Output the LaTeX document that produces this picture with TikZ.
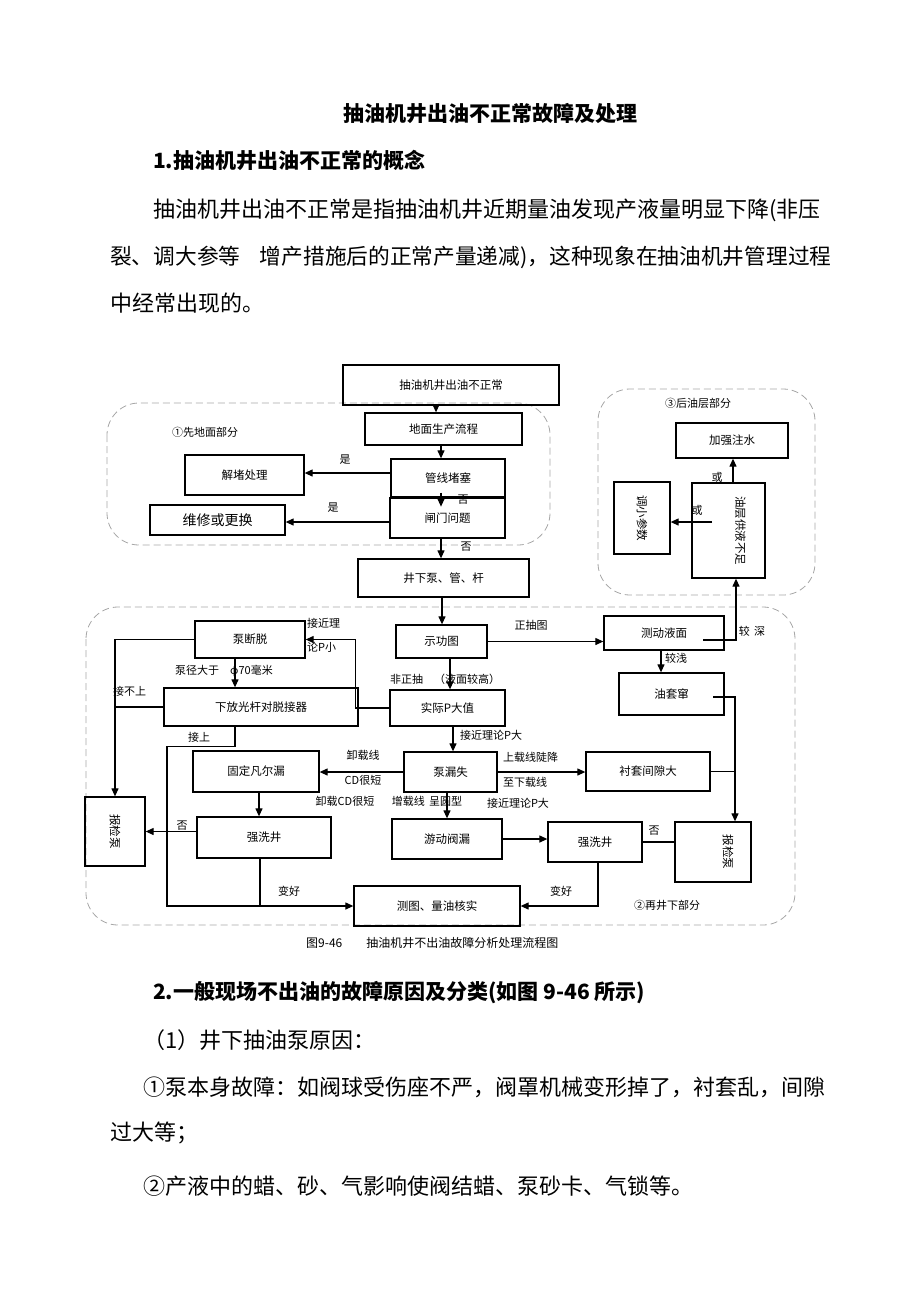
\documentclass[tikz,border=0pt]{standalone}
\usepackage{fontspec}
\setmainfont{Noto Sans CJK SC}
\usetikzlibrary{arrows.meta}

\begin{document}
\begin{tikzpicture}[x=1pt,y=-1pt]
                        \tikzstyle{every node}=[inner sep=0,font=\fontsize{11.5}{13}\selectfont]
                        \tikzstyle{box}=[draw=black,line width=1.3pt,rectangle]
                        \tikzstyle{note}=[draw=none,font=\fontsize{11}{13}\selectfont]
                        \tikzstyle{body}=[note,anchor=west,font=\fontsize{22}{26}\selectfont]
                        \tikzstyle{head}=[body,font=\fontsize{21}{26}\selectfont\bfseries]
                        \tikzstyle{region}=[draw=gray!70,line width=0.8pt,dash pattern=on 7pt off 4pt,rounded corners=32pt]
                        \tikzstyle{line}=[line width=1.2pt]
                        \tikzstyle{arr}=[line,-{Triangle[length=8pt,width=7pt]}]
                        \useasboundingbox (0,0) rectangle (920,1302);
                        {
                            % text above the chart
                            \node[head] (title) at (343,113) {抽油机井出油不正常故障及处理};
                            \node[head] (h1) at (153,160) {1.抽油机井出油不正常的概念};
                            \node[body] (p1) at (153,210) {抽油机井出油不正常是指抽油机井近期量油发现产液量明显下降(非压};
                            \node[body,font=\fontsize{21.7}{26}\selectfont] (p2) at (110,257) {裂、调大参等\hspace{0.9em}增产措施后的正常产量递减)，这种现象在抽油机井管理过程};
                            \node[body] (p3) at (110,303) {中经常出现的。};

                            \draw[region] (107,403) rectangle (550,545);
                            \draw[region] (598,389) rectangle (815,595);
                            \draw[region] (86,607) rectangle (795,925);
                            \node[note] (r1) at (205,432) {①先地面部分};
                            \node[note] (r3) at (698,403) {③后油层部分};
                            \node[note] (r2) at (667,905) {②再井下部分};

                            % ground part
                            \node[box,minimum width=216pt,minimum height=40pt] (top) at (451,385) {抽油机井出油不正常};
                            \node[box,minimum width=157pt,minimum height=32pt] (dimian) at (443.5,429) {地面生产流程};
                            \node[box,minimum width=114pt,minimum height=38pt] (guanxian) at (448,478) {管线堵塞};
                            \node[box,minimum width=115pt,minimum height=40pt] (zhamen) at (447.5,518) {闸门问题};
                            \node[box,minimum width=119pt,minimum height=40pt] (jiedu) at (244.5,475) {解堵处理};
                            \node[box,minimum width=135pt,minimum height=30pt,font=\fontsize{14}{16}\selectfont] (weixiu) at (217.5,520) {维修或更换};
                            \node[box,minimum width=171pt,minimum height=38pt] (jingxia) at (443.5,578) {井下泵、管、杆};

                            \draw[arr] (top.south -| 436,0) -- (dimian.north -| 436,0);
                            \draw[arr] (dimian.south -| 441,0) -- (guanxian.north -| 441,0);
                            \draw[arr] (guanxian.south -| 441,0) ++(0,-5) -- ++(0,14);
                            \draw[arr] (zhamen.south -| 441,0) -- (jingxia.north -| 441,0);
                            \draw[arr] ([yshift=5pt]guanxian.west) -- ([yshift=5pt]guanxian.west -| jiedu.east);
                            \draw[arr] ([yshift=-4pt]zhamen.west) -- ([yshift=-4pt]zhamen.west -| weixiu.east);
                            \node[note] at (345,460) {是};
                            \node[note] at (333,508) {是};
                            \node[note] at (463,500) {否};
                            \node[note] at (466,547) {否};

                            % oil layer part
                            \node[box,minimum width=112pt,minimum height=35pt] (zhushui) at (732,440.5) {加强注水};
                            \node[box,minimum width=56pt,minimum height=72pt] (canshu) at (642,518) {\rotatebox{-90}{调小参数}};
                            \node[box,minimum width=73pt,minimum height=95pt] (gongye) at (728.5,530.5) {\hspace*{24pt}\rotatebox{-90}{油层供液不足}};
                            \coordinate (huo) at (712,522);
                            \draw[arr] (gongye.north -| 733,0) -- (zhushui.south -| 733,0);
                            \draw[arr] (huo) -- (canshu.east |- huo);
                            \node[note] at (717,477) {或};
                            \node[note] at (697,510) {或};

                            % well part
                            \node[box,minimum width=110pt,minimum height=37pt] (duandu) at (250,639.5) {泵断脱};
                            \node[box,minimum width=91pt,minimum height=33pt] (shigong) at (441.5,641.5) {示功图};
                            \node[box,minimum width=120pt,minimum height=34pt] (yemian) at (664,633) {测动液面};
                            \node[box,minimum width=105pt,minimum height=42pt] (youtao) at (671.5,694) {油套窜};
                            \node[box,minimum width=194pt,minimum height=38pt] (tuojie) at (261,707) {下放光杆对脱接器};
                            \node[box,minimum width=115pt,minimum height=36pt] (pmax) at (447.5,708) {实际P大值};
                            \node[box,minimum width=93pt,minimum height=40pt] (loushi) at (450.5,772) {泵漏失};
                            \node[box,minimum width=126pt,minimum height=41pt] (guding) at (256,771.5) {固定凡尔漏};
                            \node[box,minimum width=124pt,minimum height=39pt] (chentao) at (648,771.5) {衬套间隙大};
                            \node[box,minimum width=60pt,minimum height=69pt] (jianL) at (115,831.5) {\rotatebox{-90}{报检泵}};
                            \node[box,minimum width=134pt,minimum height=41pt] (qxL) at (264,837.5) {强洗井};
                            \node[box,minimum width=110pt,minimum height=40pt] (youdong) at (447,839) {游动阀漏};
                            \node[box,minimum width=94pt,minimum height=40pt] (qxR) at (595,842) {强洗井};
                            \node[box,minimum width=76pt,minimum height=60pt] (jianR) at (713,852) {\hspace*{30pt}\raisebox{7pt}{\rotatebox{-90}{报检泵}}};
                            \node[box,minimum width=166pt,minimum height=40pt] (hedui) at (437,906) {测图、量油核实};
                            \coordinate (shen) at (703,640);
                            \coordinate (chuan) at (713,697);

                            \draw[arr] (jingxia.south -| 442,0) -- (shigong.north -| 442,0);
                            \draw[arr] (shigong.east) -- (shigong.east -| yemian.west);
                            \draw[arr] (yemian.south -| 661,0) -- (youtao.north -| 661,0);
                            \draw[arr] (shen) -| (gongye.south -| 736,0);
                            \draw[arr] (chuan) -| (jianR.north -| 735,0);
                            \draw[line] (chentao.east) -- (chentao.east -| 735,0);
                            \draw[arr] (shigong.south -| 450,0) -- (pmax.north -| 450,0);
                            \draw[arr] (pmax.west) -- ++(-34,0) |- (duandu.east);
                            \draw[arr] (duandu.south -| 235,0) -- (tuojie.north -| 235,0);
                            \draw[arr] (duandu.west) -| (jianL.north);
                            \draw[line] (tuojie.west) -- (tuojie.west -| jianL.north);
                            \draw[arr] (tuojie.south -| 235,0) -- ++(0,20) -- ++(-68,0) |- (hedui.west);
                            \draw[arr] (pmax.south -| 453,0) -- (loushi.north -| 453,0);
                            \draw[arr] (loushi.west) -- (loushi.west -| guding.east);
                            \draw[arr] (loushi.east) -- (loushi.east -| chentao.west);
                            \draw[arr] (loushi.south -| 447,0) -- (youdong.north -| 447,0);
                            \draw[arr] (guding.south -| 259,0) -- (qxL.north -| 259,0);
                            \draw[arr] ([yshift=6pt]qxL.west) -- ([yshift=6pt]qxL.west -| jianL.east);
                            \draw[line] (qxL.south -| 260,0) -- (hedui.west -| 260,0);
                            \draw[arr] (youdong.east) -- (youdong.east -| qxR.west);
                            \draw[line] (qxR.east) -- (qxR.east -| jianR.west);
                            \draw[arr] (qxR.south -| 598,0) |- (hedui.east);

                            \node[note] at (531,625) {正抽图};
                            \node[note] at (752,631) {较\hspace{0.4em}深};
                            \node[note] at (676,658) {较浅};
                            \node[note,anchor=west] at (390,679) {非正抽\hspace{1em}（液面较高）};
                            \node[note,anchor=west] at (307,623) {接近理};
                            \node[note,anchor=west] at (307,647) {论P小};
                            \node[note] at (224,671) {泵径大于\hspace{1em}φ70毫米};
                            \node[note,anchor=west] at (113,691) {接不上};
                            \node[note] at (199,737) {接上};
                            \node[note,anchor=west] at (460,735) {接近理论P大};
                            \node[note] at (363,755) {卸载线};
                            \node[note] at (363,780) {CD很短};
                            \node[note,anchor=west] at (503,757) {上载线陡降};
                            \node[note,anchor=west] at (503,782) {至下载线};
                            \node[note] at (345,801) {卸载CD很短};
                            \node[note] at (427,801) {增载线\hspace{0.4em}呈圆型};
                            \node[note] at (518,803) {接近理论P大};
                            \node[note] at (182,826) {否};
                            \node[note] at (654,831) {否};
                            \node[note] at (289,891) {变好};
                            \node[note] at (561,891) {变好};
                            \node[note,anchor=west,font=\fontsize{12}{14}\selectfont] (cap) at (306,943) {图9-46\hspace{2em}抽油机井不出油故障分析处理流程图};

                            % text below the chart
                            \node[head] (h2) at (153,993) {2.一般现场不出油的故障原因及分类(如图 9-46 所示)};
                            \node[body] (q1) at (143,1040) {（1）井下抽油泵原因：};
                            \node[body] (q2) at (143,1087) {①泵本身故障：如阀球受伤座不严，阀罩机械变形掉了，衬套乱，间隙};
                            \node[body] (q3) at (110,1133) {过大等；};
                            \node[body] (q4) at (143,1186) {②产液中的蜡、砂、气影响使阀结蜡、泵砂卡、气锁等。};
                        }
\end{tikzpicture}
\end{document}
